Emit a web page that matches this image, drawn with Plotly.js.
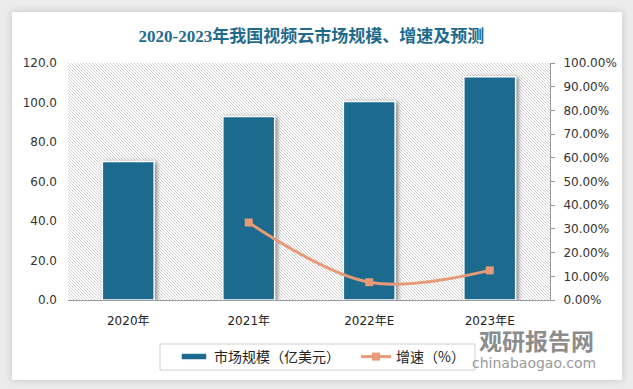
<!DOCTYPE html>
<html>
<head>
<meta charset="utf-8">
<script src="https://cdn.plot.ly/plotly-3.0.1.min.js"></script>
<style>
  html, body { margin:0; padding:0; width:633px; height:389px; overflow:hidden; background:#ececec; }
  #card { position:absolute; left:12px; top:12px; width:610px; height:368px; background:#fff; box-shadow:0 0 8px rgba(0,0,0,0.18); }
  #hatch { position:absolute; left:68px; top:63px; width:482px; height:237px;
    background-color:#fff;
    background-image: url("data:image/svg+xml;utf8,<svg xmlns='http://www.w3.org/2000/svg' width='3' height='3' shape-rendering='crispEdges'><rect x='0' y='0' width='1' height='1' fill='%23d2d2d2'/><rect x='1' y='1' width='1' height='1' fill='%23d2d2d2'/><rect x='2' y='2' width='1' height='1' fill='%23d2d2d2'/></svg>");
    background-size:3px 3px; image-rendering:pixelated; }
  #chart { position:absolute; left:0; top:0; width:633px; height:389px; }
  #chart .barlayer .point path { filter: drop-shadow(2px 1px 2px rgba(0,0,0,0.45)); }
</style>
</head>
<body>
<div id="card"></div>
<div id="hatch"></div>
<div id="chart"></div>
<script>
const categories = ['2020年', '2021年', '2022年E', '2023年E'];
const marketSize = [70.1, 92.9, 100.5, 113.0];      // 亿美元
const growthRate = [null, 0.327, 0.075, 0.125];      // 增速
const barName = '市场规模（亿美元）';
const lineName = '增速（%）';
const titleText = '2020-2023年我国视频云市场规模、增速及预测';

const PL = 68, PR = 550, PT = 63, PB = 300;
const W = 633, H = 389;
const px = v => (v - PL) / (PR - PL);
const py = v => (PB - v) / (PB - PT);

const traces = [
  {
    type: 'bar', name: barName, x: categories, y: marketSize,
    width: 0.43,
    marker: { color: '#1c6a8e', line: { color: '#ffffff', width: 1.5 } },
    hoverinfo: 'skip'
  },
  {
    type: 'scatter', mode: 'lines+markers', name: lineName, x: categories, y: growthRate,
    yaxis: 'y2',
    line: { color: '#e89a78', width: 3, shape: 'spline', smoothing: 1 },
    marker: { symbol: 'square', size: 8, color: '#e89a78' },
    connectgaps: false,
    hoverinfo: 'skip'
  }
];

const layout = {
  width: W, height: H,
  paper_bgcolor: 'rgba(0,0,0,0)',
  plot_bgcolor: 'rgba(0,0,0,0)',
  margin: { l: PL, r: W - PR, t: PT, b: H - PB, pad: 0, autoexpand: false },
  font: { family: 'DejaVu Sans, Noto Sans CJK SC, sans-serif', size: 12, color: '#333' },
  title: {
    text: titleText,
    font: { family: 'Liberation Serif, Noto Sans CJK SC, serif', size: 17, color: '#1f6b8e', weight: 'bold' },
    x: 0.505, xanchor: 'center', xref: 'paper',
    y: 1 - 36 / H, yanchor: 'middle', yref: 'container'
  },
  showlegend: true,
  legend: {
    orientation: 'h',
    xref: 'container', yref: 'container',
    x: 174 / W, xanchor: 'left',
    y: 1 - 357 / H, yanchor: 'middle',
    borderwidth: 0,
    bgcolor: 'rgba(0,0,0,0)',
    font: { family: 'Noto Sans CJK SC, sans-serif', size: 14, color: '#222' },
    itemwidth: 30,
    entrywidth: 137,
    traceorder: 'normal'
  },
  shapes: [
    {
      type: 'rect', xref: 'paper', yref: 'paper', layer: 'below',
      x0: px(160), x1: px(475), y0: py(344), y1: py(370),
      line: { color: '#d0d0d0', width: 1 }, fillcolor: '#ffffff'
    }
  ],
  xaxis: {
    type: 'category',
    range: [-0.5, 3.5],
    showline: true, linecolor: '#9a9a9a', linewidth: 1,
    ticks: '', showgrid: false, zeroline: false,
    tickfont: { family: 'DejaVu Sans, Noto Sans CJK SC, sans-serif', size: 12, color: '#222' },
    ticklabelstandoff: 10
  },
  yaxis: {
    range: [0, 120], dtick: 20, tickformat: '.1f',
    showline: false, ticks: '', showgrid: false, zeroline: false,
    tickfont: { family: 'DejaVu Sans, sans-serif', size: 12, color: '#333' },
    ticklabelstandoff: 10
  },
  yaxis2: {
    overlaying: 'y', side: 'right',
    range: [0, 1], dtick: 0.1, tickformat: '.2%',
    showline: true, linecolor: '#9a9a9a', linewidth: 1,
    ticks: 'outside', ticklen: 4, tickcolor: '#9a9a9a',
    showgrid: false, zeroline: false,
    tickfont: { family: 'DejaVu Sans, sans-serif', size: 12, color: '#333' },
    ticklabelstandoff: 6
  },
  bargap: 0.57,
  annotations: [
    {
      text: '<b>观研报告网</b>', xref: 'paper', yref: 'paper',
      x: px(536), y: py(340),
      xanchor: 'center', yanchor: 'middle', showarrow: false,
      font: { family: 'Noto Sans CJK SC, sans-serif', size: 23, color: '#8c8c8c' }
    },
    {
      text: 'chinabaogao.com', xref: 'paper', yref: 'paper',
      x: px(534), y: py(363),
      xanchor: 'center', yanchor: 'middle', showarrow: false,
      font: { family: 'DejaVu Sans, sans-serif', size: 14, color: '#9a9a9a' }
    }
  ]
};

Plotly.newPlot('chart', traces, layout, { displayModeBar: false, staticPlot: true }).then(function (gd) {
  // widen the bar legend swatch into a flat rectangle like the reference
  const tr = gd.querySelectorAll('.legend .traces');
  if (tr.length) {
    const p = tr[0].querySelector('.legendpoints path');
    if (p) p.setAttribute('d', 'M-13,3.5H13V-3.5H-13Z');
  }
});
</script>
</body>
</html>
